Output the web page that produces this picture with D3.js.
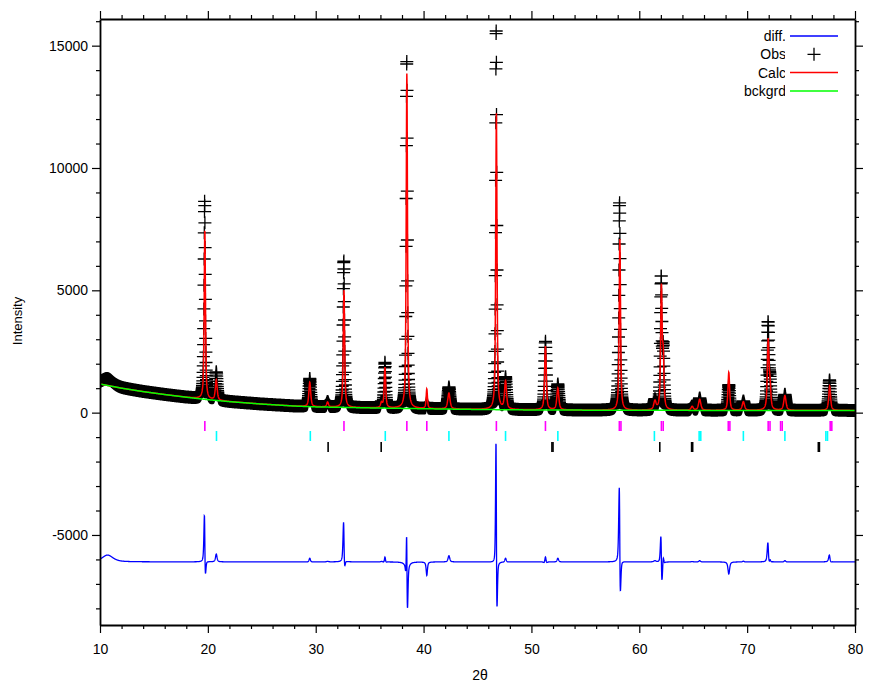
<!DOCTYPE html>
<html>
<head>
<meta charset="utf-8">
<script src="https://cdn.jsdelivr.net/npm/d3@7"></script>
<style>
  body { margin: 0; background: #fff; }
  svg text { font-family: "Liberation Sans", Arial, sans-serif; }
  .axis path, .axis line { stroke: #000; }
</style>
</head>
<body>
<svg width="869" height="682"></svg>
<script>
// pattern range / step of the scan
const twoThetaRange = [10, 80];
const scanStep = 0.014;

// background control points (2theta, counts)
const bkgX = [10, 12, 14, 16, 18, 20, 22, 25, 28, 30, 35, 40, 45, 50, 60, 70, 80];
const bkgY = [1170, 1000, 860, 740, 630, 530, 450, 350, 270, 235, 195, 160, 130, 110, 95, 90, 90];

// reflections
const peakPos  = [19.72, 20.78, 29.45, 31.1, 32.62, 36.1, 36.42, 38.45, 40.3, 42.35, 46.75, 47.6, 51.3, 52.45, 58.2, 61.45, 62.05, 62.22, 64.9, 65.6, 68.3, 69.65, 71.95, 72.12, 73.5, 77.65];
const calcH    = [6900, 830, 1000, 200, 4800, 200, 1650, 13700, 800, 650, 12100, 1150, 2600, 900, 7000, 350, 4900, 2000, 150, 450, 1550, 350, 2800, 900, 600, 1000];
const calcW    = [0.14, 0.2, 0.2, 0.2, 0.15, 0.2, 0.16, 0.14, 0.14, 0.25, 0.14, 0.22, 0.18, 0.22, 0.15, 0.25, 0.16, 0.16, 0.25, 0.25, 0.18, 0.25, 0.18, 0.18, 0.25, 0.2];
const obsH     = [8100, 1150, 1150, 220, 6000, 220, 1850, 14300, 250, 900, 15600, 1300, 2800, 1050, 8500, 400, 5300, 2300, 160, 500, 1050, 380, 3500, 1000, 650, 1250];
const obsW     = [0.135, 0.19, 0.19, 0.2, 0.145, 0.2, 0.15, 0.12, 0.14, 0.23, 0.12, 0.21, 0.17, 0.21, 0.145, 0.25, 0.15, 0.15, 0.25, 0.24, 0.18, 0.24, 0.17, 0.17, 0.24, 0.19];
const obsShift = [-0.015, 0, 0, 0, -0.015, 0, 0, -0.008, 0, 0, -0.02, 0, 0, 0, -0.03, 0, -0.02, 0, 0, 0, 0, 0, -0.01, 0, 0, -0.01];

// broad low-angle hump present only in the observed data
const humpPos = 10.7, humpH = 280, humpW = 1.2;

// offset used to place the difference curve
const diffOffset = -6100;

// reflection markers (3 phases)
const phase1 = [19.72, 32.62, 38.45, 40.3, 46.75, 51.3, 58.15, 58.3, 62.05, 62.22, 68.25, 68.4, 71.95, 72.12, 73.1, 73.25, 77.7, 77.85];
const phase2 = [20.8, 29.5, 36.45, 42.35, 47.6, 52.45, 61.4, 65.55, 65.7, 69.65, 73.5, 77.3, 77.45];
const phase3 = [31.15, 36.07, 51.9, 52.0, 61.9, 64.85, 64.95, 76.6, 76.7];
const phaseColors = ["#ff00ff", "#00ffff", "#000000"];

const yMajor = [-5000, 0, 5000, 10000, 15000];
const xMajor = [10, 20, 30, 40, 50, 60, 70, 80];

const legendLabels = ["diff.", "Obs", "Calc", "bckgrd"];
const legendColors = ["#0000ff", "#000", "#ff0000", "#00ff00"];

const W = 869, H = 682;
const margin = {left: 100, right: 14, top: 19, bottom: 57};
const svg = d3.select("svg");

const x = d3.scaleLinear().domain(twoThetaRange).range([margin.left, W - margin.right]);
const y = d3.scaleLinear().domain([-8680, 16090]).range([H - margin.bottom, margin.top]);

const bkg = d3.scaleLinear().domain(bkgX).range(bkgY);

// pseudo-Voigt profile, mostly lorentzian
const eta = 0.65;
function pv(t, pos, h, w) {
  const u = 2 * (t - pos) / w;
  return h * (eta / (1 + u * u) + (1 - eta) * Math.exp(-Math.LN2 * u * u));
}

const grid = d3.range(0, Math.round((twoThetaRange[1] - twoThetaRange[0]) / scanStep) + 1)
  .map(i => twoThetaRange[0] + i * scanStep);

const pattern = grid.map(t => {
  const b = bkg(t);
  let c = b, o = b + pv(t, humpPos, humpH, humpW);
  for (let k = 0; k < peakPos.length; k++) {
    c += pv(t, peakPos[k], calcH[k], calcW[k]);
    o += pv(t, peakPos[k] + obsShift[k], obsH[k], obsW[k]);
  }
  return {t: t, bkg: b, calc: c, obs: o, diff: o - c + diffOffset};
});

svg.append("defs").append("clipPath").attr("id", "plotclip")
  .append("rect").attr("x", x.range()[0]).attr("y", y.range()[1])
  .attr("width", x.range()[1] - x.range()[0]).attr("height", y.range()[0] - y.range()[1]);
svg.select("defs").append("clipPath").attr("id", "legclip")
  .append("rect").attr("x", 700).attr("y", 20).attr("width", 85).attr("height", 90);

const plot = svg.append("g").attr("clip-path", "url(#plotclip)");

// observed points as "+" markers
const ps = 6.5;
let plusPath = "";
pattern.forEach(d => {
  const px = x(d.t), py = y(d.obs);
  plusPath += "M" + (px - ps).toFixed(1) + "," + py.toFixed(1) + "h" + (2 * ps) +
              "M" + px.toFixed(1) + "," + (py - ps).toFixed(1) + "v" + (2 * ps);
});
plot.append("path").attr("d", plusPath).attr("stroke", "#000").attr("stroke-width", 1.3).attr("fill", "none");

const line = key => d3.line().x(d => x(d.t)).y(d => y(d[key]));

plot.append("path").datum(pattern).attr("d", line("calc"))
  .attr("fill", "none").attr("stroke", "#ff0000").attr("stroke-width", 1.5);
plot.append("path").datum(pattern).attr("d", line("bkg"))
  .attr("fill", "none").attr("stroke", "#00ff00").attr("stroke-width", 1.5);
plot.append("path").datum(pattern).attr("d", line("diff"))
  .attr("fill", "none").attr("stroke", "#0000ff").attr("stroke-width", 1.3);

// reflection markers
const rowTop = [421, 431, 442];
[phase1, phase2, phase3].forEach((ph, i) => {
  plot.selectAll(null).data(ph).enter().append("line")
    .attr("x1", d => x(d)).attr("x2", d => x(d))
    .attr("y1", rowTop[i]).attr("y2", rowTop[i] + 10)
    .attr("stroke", phaseColors[i]).attr("stroke-width", 1.6);
});

// axes: major + minor on all four sides
const yMinor = d3.range(-8000, 16001, 1000).filter(v => !yMajor.includes(v));
const xMinor = d3.range(12, 80, 2).filter(v => !xMajor.includes(v));
const fmt = v => String(v); // plain hyphen for negatives

function drawAxis(axisFn, scale, transform, major, minor, labels, pad) {
  const gMinor = svg.append("g").attr("class", "axis").attr("transform", transform)
    .call(axisFn(scale).tickValues(minor).tickSize(4).tickSizeOuter(0).tickFormat(""));
  gMinor.select(".domain").remove();
  const g = svg.append("g").attr("class", "axis").attr("transform", transform)
    .call(axisFn(scale).tickValues(major).tickSize(8).tickSizeOuter(0)
      .tickPadding(pad).tickFormat(labels ? fmt : ""));
  g.selectAll("line").attr("stroke-width", 1.2);
  gMinor.selectAll("line").attr("stroke-width", 1.2);
  g.select(".domain").attr("stroke-width", 1.8);
  g.selectAll("text").attr("font-size", 14).attr("fill", "#000");
  return g;
}
drawAxis(d3.axisLeft, y, `translate(${x.range()[0]},0)`, yMajor, yMinor, true, 4);
drawAxis(d3.axisRight, y, `translate(${x.range()[1]},0)`, yMajor, yMinor, false, 4);
drawAxis(d3.axisBottom, x, `translate(0,${y.range()[0]})`, xMajor, xMinor, true, 11);
drawAxis(d3.axisTop, x, `translate(0,${y.range()[1]})`, xMajor, xMinor, false, 4);
svg.selectAll(".axis text").attr("font-family", "Liberation Sans, Arial, sans-serif");

// axis titles
svg.append("text").attr("transform", "translate(22,321) rotate(-90)")
  .attr("text-anchor", "middle").attr("font-size", 13).text("Intensity");
svg.append("text").attr("x", 480).attr("y", 680)
  .attr("text-anchor", "middle").attr("font-size", 14).text("2θ");

// legend
const leg = svg.append("g");
legendLabels.forEach((lab, i) => {
  const ly = 36 + i * 18.3;
  leg.append("text").attr("x", 786).attr("y", ly + 5).attr("text-anchor", "end")
    .attr("font-size", 14).attr("clip-path", "url(#legclip)").text(lab);
  if (lab === "Obs") {
    leg.append("path").attr("d", `M${814 - 6.5},${ly}h13M814,${ly - 6.5}v13`)
      .attr("stroke", "#000").attr("stroke-width", 1.3);
  } else {
    leg.append("line").attr("x1", 790).attr("x2", 838).attr("y1", ly).attr("y2", ly)
      .attr("stroke", legendColors[i]).attr("stroke-width", 1.5);
  }
});
</script>
</body>
</html>
